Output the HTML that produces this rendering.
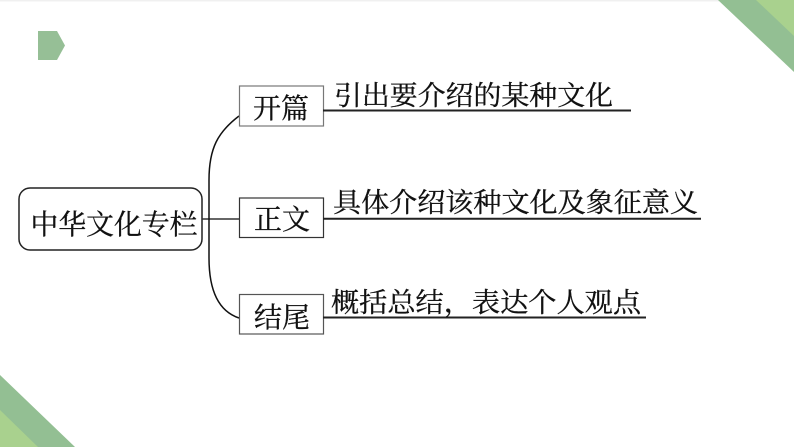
<!DOCTYPE html>
<html><head><meta charset="utf-8"><style>
html,body{margin:0;padding:0;background:#fff}
svg{display:block}
text{font-family:"Liberation Serif","Noto Serif CJK SC",serif;fill:#111;stroke:#111;stroke-width:.3px}
</style></head><body>
<svg width="794" height="447" viewBox="0 0 794 447" xmlns="http://www.w3.org/2000/svg">
<rect width="794" height="447" fill="#fff"/>
<rect width="794" height="1.5" fill="#f0f0f0"/>
<polygon points="38,31 57,31 65,45.500 57,60 38,60" fill="#96bf96"/>
<polygon points="718,0 794,0 794,72" fill="#93bf93"/>
<polygon points="756,0 794,0 794,36" fill="#a9d18e"/>
<polygon points="0,375 0,447 75,447" fill="#93bf93"/>
<polygon points="0,410 0,447 38,447" fill="#a9d18e"/>
<rect x="19" y="188" width="183" height="62" rx="11" fill="#fff" stroke="#222" stroke-width="1.500"/>
<path d="M202 219H239" stroke="#333" stroke-width="1.500" fill="none"/>
<path d="M239 116C218 132 209 148 209 180V258C209 290 218 311 239 318" stroke="#111" stroke-width="1.500" fill="none"/>
<rect x="239.500" y="86" width="84" height="40" fill="#fff" stroke="#777" stroke-width="1.200"/>
<rect x="239.500" y="198" width="84" height="39.500" fill="#fff" stroke="#333" stroke-width="1.200"/>
<rect x="239.500" y="294.500" width="84" height="39.500" fill="#fff" stroke="#555" stroke-width="1.200"/>
<path d="M323 110.500H631" stroke="#222" stroke-width="2"/>
<path d="M323 218.800H701" stroke="#222" stroke-width="2"/>
<path d="M323 317.500H646" stroke="#222" stroke-width="2"/>
<text x="30.500" y="234" font-size="28" textLength="167" lengthAdjust="spacingAndGlyphs">中华文化专栏</text>
<text x="253" y="118" font-size="28" textLength="56" lengthAdjust="spacingAndGlyphs">开篇</text>
<text x="254" y="229" font-size="28" textLength="56" lengthAdjust="spacingAndGlyphs">正文</text>
<text x="254" y="327" font-size="28" textLength="56" lengthAdjust="spacingAndGlyphs">结尾</text>
<text x="334" y="105" font-size="27" textLength="279" lengthAdjust="spacingAndGlyphs">引出要介绍的某种文化</text>
<text x="333" y="212" font-size="27" textLength="365" lengthAdjust="spacingAndGlyphs">具体介绍该种文化及象征意义</text>
<text x="331" y="312" font-size="27" textLength="310" lengthAdjust="spacingAndGlyphs">概括总结，表达个人观点</text>
</svg>
</body></html>
